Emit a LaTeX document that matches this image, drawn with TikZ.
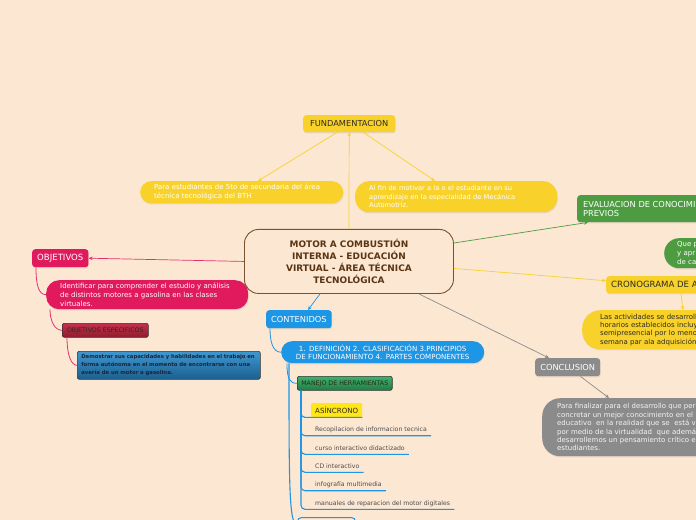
\documentclass[tikz,border=0pt]{standalone}
\usepackage{fontspec}
\setmainfont{DejaVu Sans}
\usetikzlibrary{arrows.meta,calc,shadows}

\definecolor{paper}{HTML}{FCE7D2}
\definecolor{mmyellow}{HTML}{F8D22B}
\definecolor{mmlemon}{HTML}{FFE617}
\definecolor{mmpink}{HTML}{E11A5D}
\definecolor{mmblue}{HTML}{1E96E6}
\definecolor{mmgreen}{HTML}{4E9C41}
\definecolor{mmgray}{HTML}{8B8B8B}
\definecolor{mmbrown}{HTML}{7B5230}
\definecolor{mmtitle}{HTML}{5A3514}
\definecolor{mmdark}{HTML}{2E2A20}
\definecolor{redtop}{HTML}{C4304A}
\definecolor{redbot}{HTML}{8E1C2F}
\definecolor{bluetop}{HTML}{3F97D1}
\definecolor{bluebot}{HTML}{1B5F8E}
\definecolor{greentop}{HTML}{3DB36A}
\definecolor{greenbot}{HTML}{1F7C44}
\definecolor{navytext}{HTML}{16263C}

\begin{document}
\begin{tikzpicture}[x=1bp, y=-1bp,
    topic/.style={rectangle, rounded corners=3bp, anchor=north west, minimum height=18bp, inner xsep=5bp, inner ysep=0bp, font=\fontsize{8.3}{9.3}\selectfont, drop shadow={opacity=0.18, shadow xshift=0.5bp, shadow yshift=-1.2bp}},
    pill/.style={rectangle, anchor=north west, inner xsep=14bp, inner ysep=0bp, align=left, font=\fontsize{7}{8.7}\selectfont, drop shadow={opacity=0.18, shadow xshift=0.5bp, shadow yshift=-1.2bp}},
    tag/.style={rectangle, rounded corners=2bp, anchor=north west, draw=black!80, line width=0.6bp, minimum height=14bp, inner xsep=4bp, inner ysep=0bp, font=\fontsize{6.3}{7.8}\selectfont, text=mmdark},
    leaf/.style={anchor=base west, inner xsep=4bp, inner ysep=0bp, font=\fontsize{6.2}{7}\selectfont, text=black!70},
    link/.style={-{Stealth[length=4bp,width=3.6bp]}, line width=0.7bp},
    branch/.style={line width=1.1bp, draw=mmblue, rounded corners=4bp},
    twig/.style={line width=0.8bp},
]

\fill[paper] (0,0) rectangle (696,520);
\useasboundingbox (0,0) rectangle (696,520);

% ================== Centre ==================
\node[rectangle, rounded corners=14bp, draw=mmbrown, line width=0.9bp, fill=paper, anchor=north west, minimum width=209bp, minimum height=64bp, inner sep=0bp, align=center, text=mmtitle, font=\bfseries\fontsize{9}{12.3}\selectfont] (motor) at (244,229) {MOTOR A COMBUSTIÓN\\INTERNA - EDUCACIÓN\\VIRTUAL - ÁREA TÉCNICA\\TECNOLÓGICA};

% ================== Fundamentacion ==================
\node[topic, fill=mmyellow, text=mmdark, minimum width=92bp, minimum height=17bp] (fund) at (303,115) {FUNDAMENTACION};
\node[pill, fill=mmyellow, text=white, rounded corners=11bp, text width=175bp, minimum height=22bp] (fundA) at (140,181) {Para estudiantes de 5to de secundaria del área\\técnica tecnológica del BTH};
\node[pill, fill=mmyellow, text=white, rounded corners=14bp, text width=174bp, minimum height=31bp, font=\fontsize{6.7}{8.7}\selectfont] (fundB) at (355,181) {Al fin de motivar a la o el estudiante en su\\aprendizaje en la especialidad de Mecánica\\Automotriz.};

\draw[link, mmyellow] (motor.north) -- (fund.south);
\draw[link, mmyellow] ([xshift=34bp]fund.south west) -- ([xshift=118bp]fundA.north west);
\draw[link, mmyellow] ([xshift=-32bp]fund.south east) -- ([xshift=80bp]fundB.north west);

% ================== Objetivos ==================
\node[topic, fill=mmpink, text=white, minimum width=55bp, font=\fontsize{8.6}{9.3}\selectfont] (obj) at (32,249) {OBJETIVOS};
\node[pill, fill=mmpink, text=white, rounded corners=13bp, text width=174bp, minimum height=29bp] (objA) at (46,280) {Identificar para comprender el estudio y análisis\\de distintos motores a gasolina en las clases\\virtuales.};
\node[tag, top color=redtop, bottom color=redbot, minimum width=86bp] (objEsp) at (62,323) {OBJETIVOS ESPECIFICOS};
\node[tag, top color=bluetop, bottom color=bluebot, text width=175bp, minimum height=28bp, align=left, font=\bfseries\fontsize{5.35}{7.8}\selectfont, text=navytext] (objB) at (77,351) {Demostrar sus capacidades y habilidades en el trabajo en\\forma autónoma en el momento de encontrarse con una\\avería de un motor a gasolina.};

\draw[link, mmpink!90!white] (motor.west) -- (obj.east);
\draw[twig, mmpink!90!white] ([xshift=4bp]obj.south west) .. controls +(0,16) and +(-8,0) .. (objA.west);
\draw[twig, mmpink!90!white] ([xshift=4bp]objA.south west) .. controls +(0,12) and +(-7,0) .. (objEsp.west);
\draw[twig, mmpink!90!white] ([xshift=5bp]objEsp.south west) .. controls +(0,17) and +(-6,0) .. (objB.west);

% ================== Contenidos ==================
\node[topic, fill=mmblue, text=white, minimum width=65bp] (cont) at (266,310) {CONTENIDOS};
\node[pill, fill=mmblue, text=white, rounded corners=11bp, text width=175bp, minimum height=22bp, align=center, font=\fontsize{7.1}{8.3}\selectfont] (contA) at (281,341) {1. DEFINICIÓN 2. CLASIFICACIÓN 3.PRINCIPIOS\\DE FUNCIONAMIENTO 4. PARTES COMPONENTES};
\node[tag, top color=greentop, bottom color=greenbot, minimum width=94bp] (manejo) at (297,376) {MANEJO DE HERRAMIENTAS};
\node[rectangle, rounded corners=1bp, fill=mmlemon, anchor=north west, minimum width=51bp, minimum height=14bp, inner sep=0bp, text=mmdark, font=\fontsize{7.1}{8}\selectfont] (asinc) at (311,403) {ASÍNCRONO};
\node[leaf] (m1) at (311,431.4) {Recopilacion de informacion tecnica};
\node[leaf] (m2) at (311,450) {curso interactivo didactizado};
\node[leaf] (m3) at (311,468) {CD interactivo};
\node[leaf] (m4) at (311,486.4) {infografía multimedia};
\node[leaf] (m5) at (311,505) {manuales de reparacion del motor digitales};
\node[rectangle, rounded corners=4bp, draw=mmblue, line width=1bp, anchor=north west, minimum width=58bp, minimum height=14bp] (contB) at (297,517) {};

\draw[link, mmblue] ([xshift=76bp]motor.south west) -- ([xshift=42bp]cont.north west);
\draw[twig, mmblue] ([xshift=4bp]cont.south west) .. controls +(0,14) and +(-8,0) .. (contA.west);
\draw[twig, mmblue] ([xshift=6bp]contA.south west) .. controls +(0,16) and +(-7,0) .. (manejo.west);
\draw[twig, mmblue, line width=1.1bp] ([xshift=8bp]contA.south west) .. controls +(0,120) and +(-8,0) .. (contB.west);
\draw[branch] ([xshift=4bp]manejo.south west) |- (asinc.south east);
\foreach \m in {m1,m2,m3,m4,m5}
  \draw[branch] ([xshift=4bp]manejo.south west) |- ([yshift=-4.3bp]\m.base east);

% ================== Evaluacion ==================
\node[topic, fill=mmgreen, text=white, minimum width=150bp, minimum height=27bp, inner xsep=6bp, align=left] (eval) at (577,195) {EVALUACION DE CONOCIMIENTOS\\PREVIOS};
\node[pill, fill=mmgreen, text=white, rounded corners=15bp, inner xsep=13bp, text width=60bp, minimum height=30bp, font=\fontsize{7}{9}\selectfont] (evalA) at (664,238) {Que p\\y apr\\de ca};

\draw[link, mmgreen] ([yshift=-14bp]motor.north east) -- ([xshift=11bp]eval.south west);

% ================== Cronograma ==================
\node[topic, fill=mmyellow, text=mmdark, minimum width=120bp, minimum height=17bp, font=\fontsize{8.6}{9.3}\selectfont] (crono) at (606,276) {CRONOGRAMA DE ACTIVIDADES};
\node[pill, fill=mmyellow, text=mmdark, rounded corners=18bp, inner xsep=18bp, text width=150bp, minimum height=39bp, font=\fontsize{7}{8.3}\selectfont] (cronoA) at (582,310) {Las actividades se desarroll\\horarios establecidos incluy\\semipresencial por lo meno\\semana par ala adquisición};

\draw[link, mmyellow] ([yshift=-7bp]motor.east) -- ([yshift=4bp]crono.west);
\draw[link, mmyellow] ([xshift=75bp]crono.south west) -- ([xshift=101bp]cronoA.north west);

% ================== Conclusion ==================
\node[topic, fill=mmgray, text=white, minimum width=65bp] (concl) at (535,358) {CONCLUSION};
\node[pill, fill=mmgray, text=white!92!gray, rounded corners=18bp, inner xsep=15bp, text width=170bp, minimum height=58bp, font=\fontsize{7}{8.5}\selectfont] (conclA) at (542,398) {Para finalizar para el desarrollo que per\\concretar un mejor conocimiento en el\\educativo \ en la realidad que se \ está v\\por medio de la virtualidad \ que además\\desarrollemos un pensamiento crítico e\\estudiantes.};

\draw[link, mmgray] ([xshift=-35bp]motor.south east) -- ([xshift=14bp]concl.north west);
\draw[link, mmgray] ([xshift=-20bp]concl.south east) -- ([xshift=67bp]conclA.north west);

\end{tikzpicture}
\end{document}
